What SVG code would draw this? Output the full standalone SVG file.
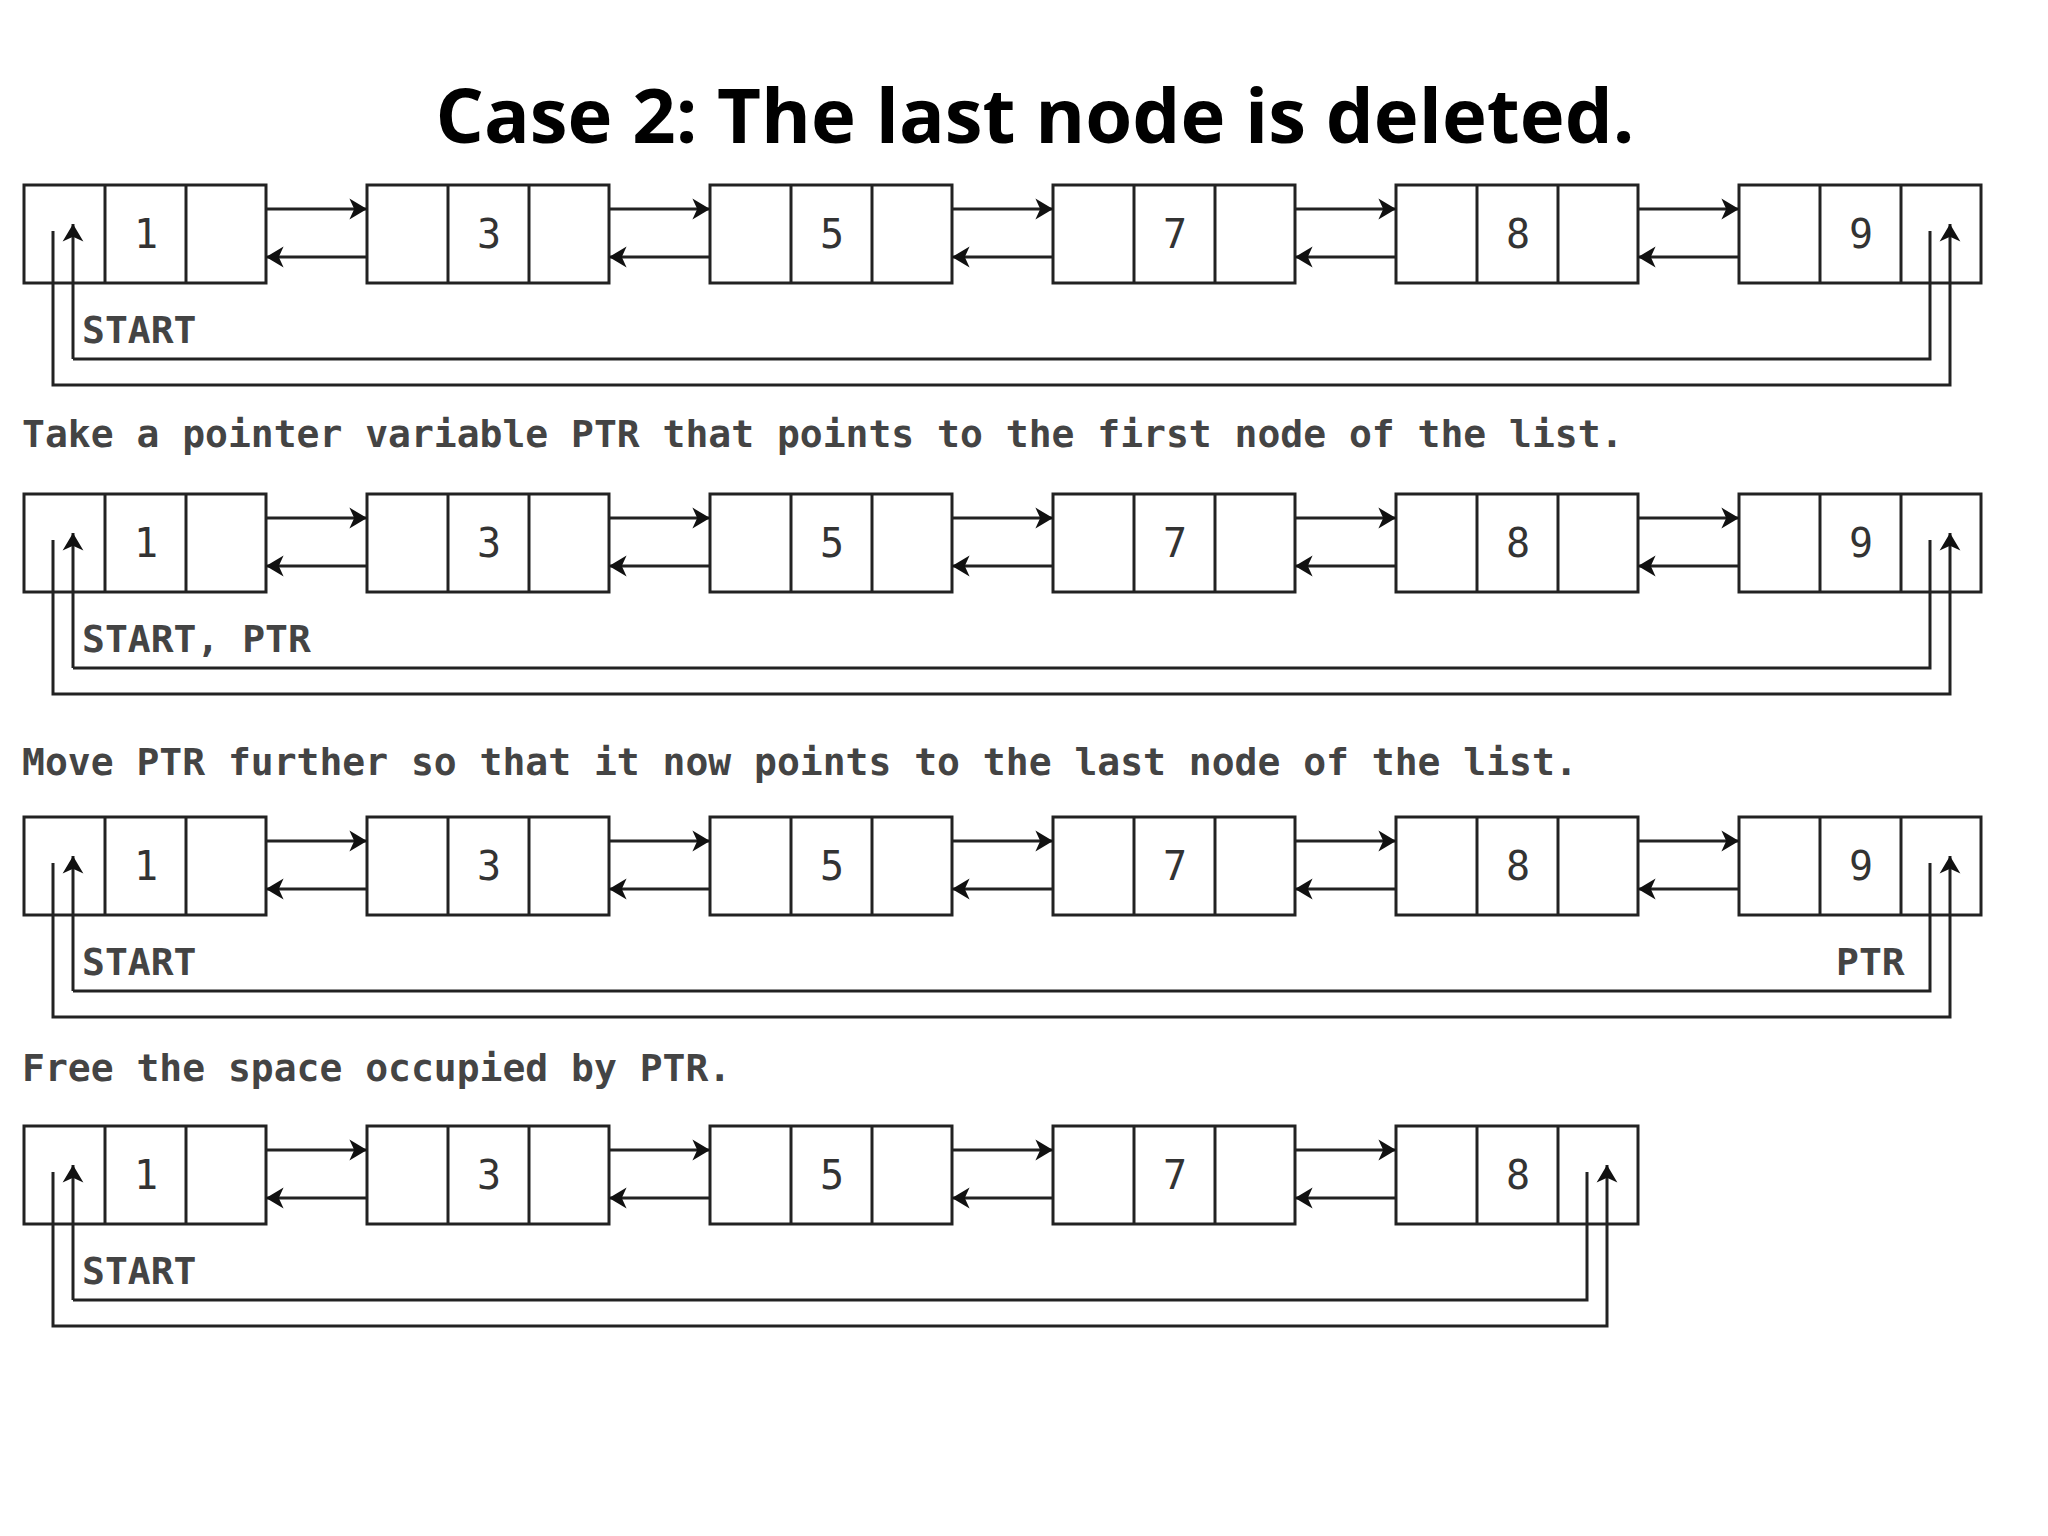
<svg xmlns="http://www.w3.org/2000/svg" width="2048" height="1536" viewBox="0 0 2048 1536">
<style>
.b{fill:#fff;stroke:#222;stroke-width:3}
.l{fill:none;stroke:#222;stroke-width:3}
.t{font-family:"DejaVu Sans Mono","Liberation Mono",monospace;font-size:38px;font-weight:bold;fill:#444}
.n{font-family:"DejaVu Sans Mono","Liberation Mono",monospace;font-size:40px;fill:#333;text-anchor:middle}
.h{font-family:"Open Sans","Liberation Sans",sans-serif;font-size:76px;font-weight:bold;fill:#000;text-anchor:middle}
</style>
<defs>
<marker id="a" viewBox="0 0 10 10" refX="10" refY="5" markerWidth="8" markerHeight="8" markerUnits="userSpaceOnUse" orient="auto" style="overflow:visible"><path d="M0,-8 L22,5 L0,18 L6,5 Z" fill="#111" transform="translate(-12,0)"/></marker>
<g id="node"><rect class="b" x="0" y="0" width="242" height="98"/><line class="l" x1="81" y1="0" x2="81" y2="98"/><line class="l" x1="162" y1="0" x2="162" y2="98"/></g>
<g id="link"><line class="l" x1="242" y1="24" x2="343" y2="24" marker-end="url(#a)"/><line class="l" x1="343" y1="72" x2="242" y2="72" marker-end="url(#a)"/></g>
</defs>
<rect width="2048" height="1536" fill="#fff"/>
<text class="h" x="1035" y="143">Case 2: The last node is deleted.</text>
<text class="t" x="22" y="447">Take a pointer variable PTR that points to the first node of the list.</text>
<text class="t" x="22" y="775">Move PTR further so that it now points to the last node of the list.</text>
<text class="t" x="22" y="1081">Free the space occupied by PTR.</text>

<g id="row1" transform="translate(24,185)">
<g id="r1n1"><use href="#node"/><text class="n" x="122" y="63">1</text></g>
<g id="r1n3" transform="translate(343,0)"><use href="#node"/><text class="n" x="122" y="63">3</text></g>
<g id="r1n5" transform="translate(686,0)"><use href="#node"/><text class="n" x="122" y="63">5</text></g>
<g id="r1n7" transform="translate(1029,0)"><use href="#node"/><text class="n" x="122" y="63">7</text></g>
<g id="r1n8" transform="translate(1372,0)"><use href="#node"/><text class="n" x="122" y="63">8</text></g>
<g id="r1n9" transform="translate(1715,0)"><use href="#node"/><text class="n" x="122" y="63">9</text></g>
<text class="t" x="58" y="158">START</text>
<g id="r1c"><use href="#link"/><use href="#link" x="343"/><use href="#link" x="686"/><use href="#link" x="1029"/><use href="#link" x="1372"/>
<polyline class="l" points="49,174 1906,174 1906,46"/><polyline class="l" points="29,46 29,200 1926,200 1926,39" marker-end="url(#a)"/>
<line class="l" x1="49" y1="174" x2="49" y2="39" marker-end="url(#a)"/></g>
</g>

<g id="row2" transform="translate(24,494)">
<g id="r2n1"><use href="#node"/><text class="n" x="122" y="63">1</text></g>
<g id="r2n3" transform="translate(343,0)"><use href="#node"/><text class="n" x="122" y="63">3</text></g>
<g id="r2n5" transform="translate(686,0)"><use href="#node"/><text class="n" x="122" y="63">5</text></g>
<g id="r2n7" transform="translate(1029,0)"><use href="#node"/><text class="n" x="122" y="63">7</text></g>
<g id="r2n8" transform="translate(1372,0)"><use href="#node"/><text class="n" x="122" y="63">8</text></g>
<g id="r2n9" transform="translate(1715,0)"><use href="#node"/><text class="n" x="122" y="63">9</text></g>
<text class="t" x="58" y="158">START, PTR</text>
<g id="r2c"><use href="#link"/><use href="#link" x="343"/><use href="#link" x="686"/><use href="#link" x="1029"/><use href="#link" x="1372"/>
<polyline class="l" points="49,174 1906,174 1906,46"/><polyline class="l" points="29,46 29,200 1926,200 1926,39" marker-end="url(#a)"/>
<line class="l" x1="49" y1="174" x2="49" y2="39" marker-end="url(#a)"/></g>
</g>

<g id="row3" transform="translate(24,817)">
<g id="r3n1"><use href="#node"/><text class="n" x="122" y="63">1</text></g>
<g id="r3n3" transform="translate(343,0)"><use href="#node"/><text class="n" x="122" y="63">3</text></g>
<g id="r3n5" transform="translate(686,0)"><use href="#node"/><text class="n" x="122" y="63">5</text></g>
<g id="r3n7" transform="translate(1029,0)"><use href="#node"/><text class="n" x="122" y="63">7</text></g>
<g id="r3n8" transform="translate(1372,0)"><use href="#node"/><text class="n" x="122" y="63">8</text></g>
<g id="r3n9" transform="translate(1715,0)"><use href="#node"/><text class="n" x="122" y="63">9</text></g>
<text class="t" x="58" y="158">START</text>
<text class="t" x="1812" y="158">PTR</text>
<g id="r3c"><use href="#link"/><use href="#link" x="343"/><use href="#link" x="686"/><use href="#link" x="1029"/><use href="#link" x="1372"/>
<polyline class="l" points="49,174 1906,174 1906,46"/><polyline class="l" points="29,46 29,200 1926,200 1926,39" marker-end="url(#a)"/>
<line class="l" x1="49" y1="174" x2="49" y2="39" marker-end="url(#a)"/></g>
</g>

<g id="row4" transform="translate(24,1126)">
<g id="r4n1"><use href="#node"/><text class="n" x="122" y="63">1</text></g>
<g id="r4n3" transform="translate(343,0)"><use href="#node"/><text class="n" x="122" y="63">3</text></g>
<g id="r4n5" transform="translate(686,0)"><use href="#node"/><text class="n" x="122" y="63">5</text></g>
<g id="r4n7" transform="translate(1029,0)"><use href="#node"/><text class="n" x="122" y="63">7</text></g>
<g id="r4n8" transform="translate(1372,0)"><use href="#node"/><text class="n" x="122" y="63">8</text></g>
<text class="t" x="58" y="158">START</text>
<g id="r4c"><use href="#link"/><use href="#link" x="343"/><use href="#link" x="686"/><use href="#link" x="1029"/>
<polyline class="l" points="49,174 1563,174 1563,46"/><polyline class="l" points="29,46 29,200 1583,200 1583,39" marker-end="url(#a)"/>
<line class="l" x1="49" y1="174" x2="49" y2="39" marker-end="url(#a)"/></g>
</g>
</svg>
